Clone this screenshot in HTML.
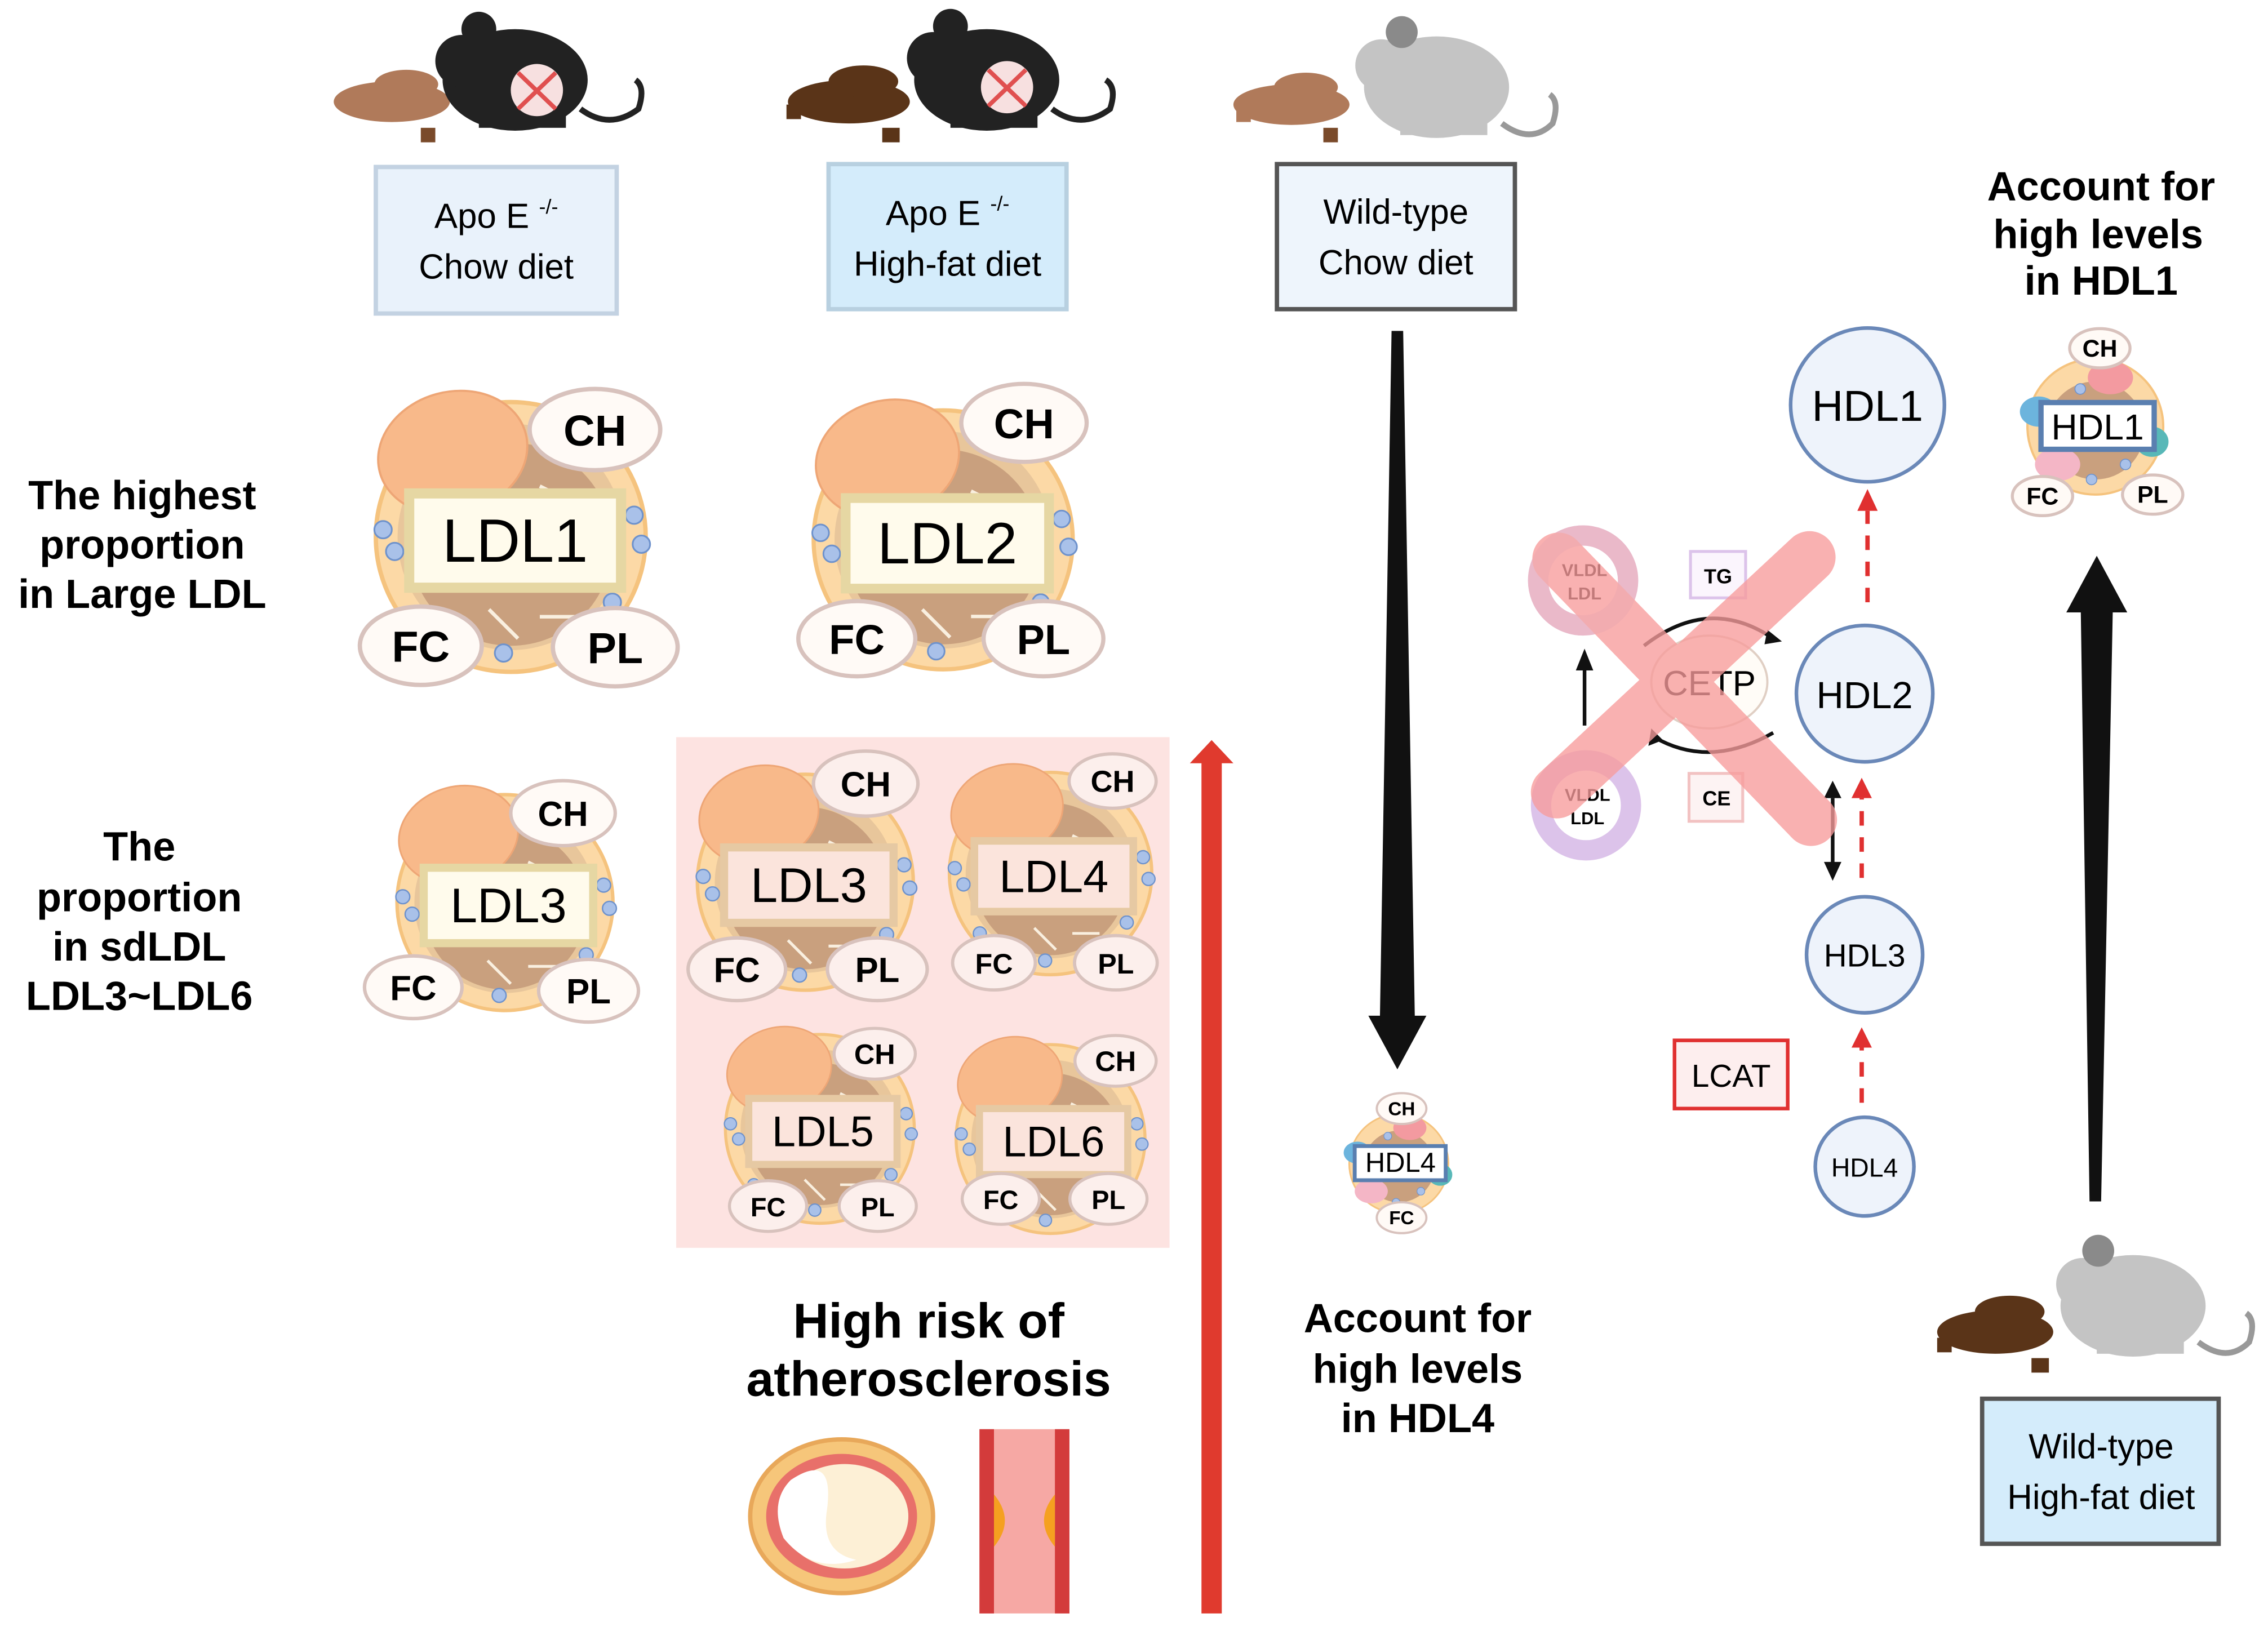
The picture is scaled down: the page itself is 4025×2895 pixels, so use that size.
<!DOCTYPE html>
<html><head><meta charset="utf-8"><style>html,body{margin:0;padding:0;background:#fff}svg{display:block}</style></head>
<body>
<svg width="4025" height="2895" viewBox="0 0 1563 1124" xmlns="http://www.w3.org/2000/svg" font-family="Liberation Sans, sans-serif">
<defs>
<symbol id="shell" viewBox="-100 -100 200 200" overflow="visible">
  <circle r="93" fill="#fcd9a6" stroke="#f5c37e" stroke-width="3"/>
  <circle r="78" fill="#e8c69b"/>
  <circle cy="5" r="70" fill="#c9a07e"/>
  <g stroke="#fff8ea" stroke-width="2.5" opacity="0.9">
    <line x1="-10" y1="-40" x2="-25" y2="-10"/><line x1="20" y1="-35" x2="50" y2="-20"/>
    <line x1="-15" y1="50" x2="5" y2="70"/><line x1="20" y1="55" x2="45" y2="55"/>
  </g>
  <g fill="#a9c1e9" stroke="#6e92cc" stroke-width="1.2">
    <circle cx="-88" cy="-5" r="6"/><circle cx="-80" cy="10" r="6"/><circle cx="85" cy="-15" r="6"/><circle cx="90" cy="5" r="6"/>
    <circle cx="-10" cy="-55" r="6"/><circle cx="0" cy="-45" r="6"/><circle cx="70" cy="45" r="6"/><circle cx="-65" cy="55" r="6"/><circle cx="-5" cy="80" r="6"/>
  </g>
  <ellipse cx="-40" cy="-58" rx="52" ry="42" fill="#f8b98a" stroke="#eea676" stroke-width="1.5" transform="rotate(-15 -40 -58)"/>
</symbol>
<symbol id="hshell" viewBox="-100 -100 200 200" overflow="visible">
  <circle r="90" fill="#fcd9a6" stroke="#f5c37e" stroke-width="3"/>
  <circle cy="5" r="65" fill="#c9a07e"/>
  <ellipse cx="-75" cy="-20" rx="25" ry="20" fill="#6cb4dd"/>
  <ellipse cx="20" cy="-65" rx="30" ry="22" fill="#f39aa0"/>
  <ellipse cx="-50" cy="50" rx="30" ry="22" fill="#f4b6c6"/>
  <ellipse cx="75" cy="20" rx="22" ry="20" fill="#58b8b8"/>
  <g fill="#a9c1e9" stroke="#6e92cc" stroke-width="1.2">
    <circle cx="-20" cy="-50" r="7"/><circle cx="40" cy="50" r="7"/><circle cx="-5" cy="70" r="7"/></g>
</symbol>
</defs>

<!-- food + mice -->
<g>
  <g fill="#b07a5a"><ellipse cx="270" cy="70" rx="40" ry="14"/><rect x="240" y="62" width="12" height="12"/><rect x="290" y="88" width="10" height="10" fill="#7a4a2a"/><ellipse cx="280" cy="58" rx="22" ry="10"/></g>
  <g fill="#222"><ellipse cx="355" cy="55" rx="50" ry="35"/><circle cx="318" cy="42" r="18"/><circle cx="330" cy="20" r="12"/><path d="M400 75 Q420 90 440 75 Q445 60 438 55" stroke="#222" stroke-width="4" fill="none"/><rect x="330" y="80" width="60" height="8"/></g>
  <circle cx="370" cy="62" r="18" fill="#f7e0e0"/><path d="M357 50 L383 75 M383 50 L357 75" stroke="#e05050" stroke-width="3"/>

  <g fill="#5a3418"><ellipse cx="585" cy="70" rx="42" ry="15"/><ellipse cx="595" cy="56" rx="24" ry="11"/><rect x="608" y="88" width="12" height="10"/><rect x="542" y="72" width="10" height="10"/></g>
  <g fill="#222"><ellipse cx="680" cy="55" rx="50" ry="35"/><circle cx="643" cy="40" r="18"/><circle cx="655" cy="18" r="12"/><path d="M725 75 Q745 90 765 75 Q770 60 762 55" stroke="#222" stroke-width="4" fill="none"/><rect x="655" y="80" width="60" height="8"/></g>
  <circle cx="694" cy="60" r="18" fill="#f7e0e0"/><path d="M681 48 L707 73 M707 48 L681 73" stroke="#e05050" stroke-width="3"/>

  <g fill="#b07a5a"><ellipse cx="890" cy="72" rx="40" ry="14"/><ellipse cx="900" cy="60" rx="22" ry="10"/><rect x="912" y="88" width="10" height="10" fill="#7a4a2a"/><rect x="852" y="74" width="10" height="10"/></g>
  <g fill="#c4c4c4"><ellipse cx="990" cy="60" rx="50" ry="35"/><circle cx="952" cy="45" r="18"/><circle cx="966" cy="22" r="11" fill="#8a8a8a"/><path d="M1035 85 Q1055 100 1070 85 Q1075 70 1068 65" stroke="#999" stroke-width="4" fill="none"/><rect x="965" y="85" width="60" height="8"/></g>

  <g fill="#5a3418"><ellipse cx="1375" cy="918" rx="40" ry="15"/><ellipse cx="1385" cy="904" rx="24" ry="11"/><rect x="1400" y="936" width="12" height="10"/><rect x="1335" y="922" width="10" height="10"/></g>
  <g fill="#c4c4c4"><ellipse cx="1470" cy="900" rx="50" ry="35"/><circle cx="1435" cy="885" r="18"/><circle cx="1446" cy="862" r="11" fill="#8a8a8a"/><path d="M1515 925 Q1535 940 1550 925 Q1555 910 1548 905" stroke="#999" stroke-width="4" fill="none"/><rect x="1445" y="925" width="60" height="8"/></g>
</g>

<!-- group boxes -->
<rect x="259" y="115" width="166" height="101" fill="#e9f2fb" stroke="#c3d2e2" stroke-width="3"/>
<text x="342" y="157" font-size="24" text-anchor="middle">Apo E <tspan font-size="14" dy="-10">-/-</tspan></text>
<text x="342" y="192" font-size="24" text-anchor="middle">Chow diet</text>
<rect x="571" y="113" width="164" height="100" fill="#d4ecfb" stroke="#b8d0e0" stroke-width="3"/>
<text x="653" y="155" font-size="24" text-anchor="middle">Apo E <tspan font-size="14" dy="-10">-/-</tspan></text>
<text x="653" y="190" font-size="24" text-anchor="middle">High-fat diet</text>
<rect x="880" y="113" width="164" height="100" fill="#eef5fc" stroke="#555" stroke-width="3"/>
<text x="962" y="154" font-size="24" text-anchor="middle">Wild-type</text>
<text x="962" y="189" font-size="24" text-anchor="middle">Chow diet</text>
<rect x="1366" y="964" width="163" height="100" fill="#d4ecfb" stroke="#555" stroke-width="3"/>
<text x="1448" y="1005" font-size="24" text-anchor="middle">Wild-type</text>
<text x="1448" y="1040" font-size="24" text-anchor="middle">High-fat diet</text>

<!-- left labels -->
<g font-weight="bold" font-size="28" text-anchor="middle">
<text x="98" y="351">The highest</text><text x="98" y="385">proportion</text><text x="98" y="419">in Large LDL</text>
<text x="96" y="593">The</text><text x="96" y="628">proportion</text><text x="96" y="662">in sdLDL</text><text x="96" y="696">LDL3~LDL6</text>
</g>

<rect x="466" y="508" width="340" height="352" fill="#fde3e1"/>

<!-- LDL particles -->
<g id="p">
<g transform="translate(352,370) scale(1)">
 <use href="#shell" x="-100" y="-100" width="200" height="200"/>
 <rect x="-70" y="-30" width="146" height="65" fill="#fffbec" stroke="#e6d7a3" stroke-width="7"/>
 <text x="3" y="17" font-size="42" text-anchor="middle">LDL1</text>
 <ellipse cx="58" cy="-74" rx="45" ry="28" fill="#fffaf6" stroke="#d8c2bd" stroke-width="3"/><text x="58" y="-63" font-size="30" font-weight="bold" text-anchor="middle">CH</text>
 <ellipse cx="-62" cy="75" rx="42" ry="27" fill="#fffaf6" stroke="#d8c2bd" stroke-width="3"/><text x="-62" y="86" font-size="30" font-weight="bold" text-anchor="middle">FC</text>
 <ellipse cx="72" cy="76" rx="43" ry="27" fill="#fffaf6" stroke="#d8c2bd" stroke-width="3"/><text x="72" y="87" font-size="30" font-weight="bold" text-anchor="middle">PL</text>
</g>
</g>
<g transform="translate(650,372) scale(0.96)">
 <use href="#shell" x="-100" y="-100" width="200" height="200"/>
 <rect x="-70" y="-30" width="146" height="65" fill="#fffbec" stroke="#e6d7a3" stroke-width="7"/>
 <text x="3" y="17" font-size="42" text-anchor="middle">LDL2</text>
 <ellipse cx="58" cy="-84" rx="45" ry="28" fill="#fffaf6" stroke="#d8c2bd" stroke-width="3"/><text x="58" y="-73" font-size="30" font-weight="bold" text-anchor="middle">CH</text>
 <ellipse cx="-62" cy="71" rx="42" ry="27" fill="#fffaf6" stroke="#d8c2bd" stroke-width="3"/><text x="-62" y="82" font-size="30" font-weight="bold" text-anchor="middle">FC</text>
 <ellipse cx="72" cy="71" rx="43" ry="27" fill="#fffaf6" stroke="#d8c2bd" stroke-width="3"/><text x="72" y="82" font-size="30" font-weight="bold" text-anchor="middle">PL</text>
</g>
<g transform="translate(348,622) scale(0.8)">
 <use href="#shell" x="-100" y="-100" width="200" height="200"/>
 <rect x="-70" y="-30" width="146" height="65" fill="#fffbec" stroke="#e6d7a3" stroke-width="7"/>
 <text x="3" y="17" font-size="42" text-anchor="middle">LDL3</text>
 <ellipse cx="50" cy="-77" rx="45" ry="28" fill="#fffaf6" stroke="#d8c2bd" stroke-width="3"/><text x="50" y="-66" font-size="30" font-weight="bold" text-anchor="middle">CH</text>
 <ellipse cx="-79" cy="73" rx="42" ry="27" fill="#fffaf6" stroke="#d8c2bd" stroke-width="3"/><text x="-79" y="84" font-size="30" font-weight="bold" text-anchor="middle">FC</text>
 <ellipse cx="72" cy="76" rx="43" ry="27" fill="#fffaf6" stroke="#d8c2bd" stroke-width="3"/><text x="72" y="87" font-size="30" font-weight="bold" text-anchor="middle">PL</text>
</g>
<g transform="translate(555,608) scale(0.8)">
 <use href="#shell" x="-100" y="-100" width="200" height="200"/>
 <rect x="-70" y="-30" width="146" height="65" fill="#fbe4dc" stroke="#e6c9a3" stroke-width="7"/>
 <text x="3" y="17" font-size="42" text-anchor="middle">LDL3</text>
 <ellipse cx="52" cy="-85" rx="45" ry="28" fill="#fcefec" stroke="#d8c2bd" stroke-width="3"/><text x="52" y="-74" font-size="30" font-weight="bold" text-anchor="middle">CH</text>
 <ellipse cx="-59" cy="75" rx="42" ry="27" fill="#fcefec" stroke="#d8c2bd" stroke-width="3"/><text x="-59" y="86" font-size="30" font-weight="bold" text-anchor="middle">FC</text>
 <ellipse cx="62" cy="75" rx="43" ry="27" fill="#fcefec" stroke="#d8c2bd" stroke-width="3"/><text x="62" y="86" font-size="30" font-weight="bold" text-anchor="middle">PL</text>
</g>
<g transform="translate(724,602) scale(0.75)">
 <use href="#shell" x="-100" y="-100" width="200" height="200"/>
 <rect x="-70" y="-30" width="146" height="65" fill="#fbe4dc" stroke="#e6c9a3" stroke-width="7"/>
 <text x="3" y="17" font-size="42" text-anchor="middle">LDL4</text>
 <ellipse cx="57" cy="-85" rx="40" ry="25" fill="#fcefec" stroke="#d8c2bd" stroke-width="3"/><text x="57" y="-75" font-size="28" font-weight="bold" text-anchor="middle">CH</text>
 <ellipse cx="-52" cy="82" rx="38" ry="25" fill="#fcefec" stroke="#d8c2bd" stroke-width="3"/><text x="-52" y="92" font-size="26" font-weight="bold" text-anchor="middle">FC</text>
 <ellipse cx="60" cy="82" rx="38" ry="25" fill="#fcefec" stroke="#d8c2bd" stroke-width="3"/><text x="60" y="92" font-size="26" font-weight="bold" text-anchor="middle">PL</text>
</g>
<g transform="translate(565,778) scale(0.7)">
 <use href="#shell" x="-100" y="-100" width="200" height="200"/>
 <rect x="-70" y="-30" width="146" height="65" fill="#fbe4dc" stroke="#e6c9a3" stroke-width="7"/>
 <text x="3" y="17" font-size="42" text-anchor="middle">LDL5</text>
 <ellipse cx="54" cy="-74" rx="40" ry="25" fill="#fcefec" stroke="#d8c2bd" stroke-width="3"/><text x="54" y="-64" font-size="28" font-weight="bold" text-anchor="middle">CH</text>
 <ellipse cx="-51" cy="76" rx="38" ry="25" fill="#fcefec" stroke="#d8c2bd" stroke-width="3"/><text x="-51" y="86" font-size="26" font-weight="bold" text-anchor="middle">FC</text>
 <ellipse cx="57" cy="76" rx="38" ry="25" fill="#fcefec" stroke="#d8c2bd" stroke-width="3"/><text x="57" y="86" font-size="26" font-weight="bold" text-anchor="middle">PL</text>
</g>
<g transform="translate(724,785) scale(0.7)">
 <use href="#shell" x="-100" y="-100" width="200" height="200"/>
 <rect x="-70" y="-30" width="146" height="65" fill="#fbe4dc" stroke="#e6c9a3" stroke-width="7"/>
 <text x="3" y="17" font-size="42" text-anchor="middle">LDL6</text>
 <ellipse cx="64" cy="-77" rx="40" ry="25" fill="#fcefec" stroke="#d8c2bd" stroke-width="3"/><text x="64" y="-67" font-size="28" font-weight="bold" text-anchor="middle">CH</text>
 <ellipse cx="-49" cy="59" rx="38" ry="25" fill="#fcefec" stroke="#d8c2bd" stroke-width="3"/><text x="-49" y="69" font-size="26" font-weight="bold" text-anchor="middle">FC</text>
 <ellipse cx="57" cy="59" rx="38" ry="25" fill="#fcefec" stroke="#d8c2bd" stroke-width="3"/><text x="57" y="69" font-size="26" font-weight="bold" text-anchor="middle">PL</text>
</g>

<!-- HDL particles -->
<g transform="translate(964,802) scale(0.38)">
 <use href="#hshell" x="-100" y="-100" width="200" height="200"/>
 <rect x="-80" y="-32" width="165" height="62" fill="#fff" stroke="#5a7fb0" stroke-width="7"/>
 <text x="3" y="15" font-size="50" text-anchor="middle">HDL4</text>
 <ellipse cx="5" cy="-100" rx="45" ry="28" fill="#fffaf6" stroke="#d8c2bd" stroke-width="4"/><text x="5" y="-88" font-size="34" font-weight="bold" text-anchor="middle">CH</text>
 <ellipse cx="5" cy="98" rx="45" ry="28" fill="#fffaf6" stroke="#d8c2bd" stroke-width="4"/><text x="5" y="110" font-size="34" font-weight="bold" text-anchor="middle">FC</text>
</g>
<g transform="translate(1444,294) scale(0.52)">
 <use href="#hshell" x="-100" y="-100" width="200" height="200"/>
 <rect x="-72" y="-32" width="150" height="62" fill="#fff" stroke="#5a7fb0" stroke-width="7"/>
 <text x="3" y="17" font-size="48" text-anchor="middle">HDL1</text>
 <ellipse cx="6" cy="-104" rx="40" ry="26" fill="#fffaf6" stroke="#d8c2bd" stroke-width="4"/><text x="6" y="-93" font-size="32" font-weight="bold" text-anchor="middle">CH</text>
 <ellipse cx="-70" cy="92" rx="40" ry="26" fill="#fffaf6" stroke="#d8c2bd" stroke-width="4"/><text x="-70" y="103" font-size="32" font-weight="bold" text-anchor="middle">FC</text>
 <ellipse cx="76" cy="90" rx="40" ry="26" fill="#fffaf6" stroke="#d8c2bd" stroke-width="4"/><text x="76" y="101" font-size="32" font-weight="bold" text-anchor="middle">PL</text>
</g>

<!-- big black arrows -->
<polygon points="959,228 967,228 975,700 983,700 963,737 943,700 951,700" fill="#111"/>
<polygon points="1440,828 1448,828 1456,422 1466,422 1445,383 1424,422 1434,422" fill="#111"/>
<!-- red arrow -->
<rect x="828" y="522" width="14" height="590" fill="#e03a2e"/>
<polygon points="820,526 850,526 835,510" fill="#e03a2e"/>

<!-- texts -->
<g font-weight="bold" text-anchor="middle">
<text x="640" y="922" font-size="34">High risk of</text><text x="640" y="962" font-size="34">atherosclerosis</text>
<text x="977" y="918" font-size="28">Account for</text><text x="977" y="953" font-size="28">high levels</text><text x="977" y="987" font-size="28">in HDL4</text>
<text x="1448" y="138" font-size="28">Account for</text><text x="1446" y="171" font-size="28">high levels</text><text x="1448" y="203" font-size="28">in HDL1</text>
</g>

<!-- artery icons -->
<ellipse cx="580" cy="1045" rx="63" ry="53" fill="#f6c67a" stroke="#e8a85a" stroke-width="3"/>
<ellipse cx="580" cy="1045" rx="52" ry="43" fill="#e8706a"/>
<ellipse cx="582" cy="1045" rx="44" ry="36" fill="#fdf0d6"/>
<path d="M545 1020 Q575 1000 570 1040 Q565 1070 590 1075 Q560 1085 540 1060 Q530 1035 545 1020Z" fill="#fff"/>
<rect x="675" y="985" width="62" height="127" fill="#f6a8a4"/>
<rect x="675" y="985" width="10" height="127" fill="#d33b3b"/><rect x="727" y="985" width="10" height="127" fill="#d33b3b"/>
<path d="M685 1030 Q700 1048 685 1066Z" fill="#f5a020"/><path d="M727 1030 Q712 1048 727 1066Z" fill="#f5a020"/>

<!-- HDL circles -->
<g fill="#eef3fb" stroke="#6a88b8" stroke-width="2.5">
<circle cx="1287" cy="279" r="53"/><circle cx="1285" cy="478" r="47"/><circle cx="1285" cy="658" r="40"/><circle cx="1285" cy="804" r="34"/></g>
<g text-anchor="middle">
<text x="1287" y="290" font-size="30">HDL1</text><text x="1285" y="488" font-size="26">HDL2</text>
<text x="1285" y="666" font-size="22">HDL3</text><text x="1285" y="811" font-size="18">HDL4</text></g>
<g stroke="#e03030" stroke-width="3" stroke-dasharray="10,8" fill="none">
<line x1="1287" y1="415" x2="1287" y2="352"/><line x1="1283" y1="605" x2="1283" y2="550"/><line x1="1283" y1="760" x2="1283" y2="722"/></g>
<g fill="#e03030"><polygon points="1280,352 1294,352 1287,337"/><polygon points="1276,550 1290,550 1283,536"/><polygon points="1276,722 1290,722 1283,708"/></g>
<rect x="1154" y="717" width="78" height="47" fill="#fdeeee" stroke="#e03030" stroke-width="2.5"/>
<text x="1193" y="749" font-size="22" text-anchor="middle">LCAT</text>

<!-- CETP cycle -->
<circle cx="1091" cy="400" r="31" fill="none" stroke="#dcc3ea" stroke-width="14"/>
<circle cx="1093" cy="555" r="31" fill="none" stroke="#dcc3ea" stroke-width="14"/>
<text x="1092" y="397" font-size="12" font-weight="bold" text-anchor="middle">VLDL</text><text x="1092" y="413" font-size="12" font-weight="bold" text-anchor="middle">LDL</text>
<text x="1094" y="552" font-size="12" font-weight="bold" text-anchor="middle">VLDL</text><text x="1094" y="568" font-size="12" font-weight="bold" text-anchor="middle">LDL</text>
<rect x="1165" y="380" width="38" height="32" fill="#fbf5fd" stroke="#dcc3ea" stroke-width="2"/><text x="1184" y="402" font-size="14" font-weight="bold" text-anchor="middle">TG</text>
<rect x="1164" y="533" width="37" height="33" fill="#fdf3f3" stroke="#f2c2c2" stroke-width="2"/><text x="1183" y="555" font-size="14" font-weight="bold" text-anchor="middle">CE</text>
<ellipse cx="1178" cy="470" rx="40" ry="32" fill="#fffcf7" stroke="#e0cfc4" stroke-width="1.5"/>
<text x="1178" y="479" font-size="24" text-anchor="middle">CETP</text>
<path d="M1133 445 Q1178 410 1222 440" fill="none" stroke="#111" stroke-width="2.5"/><polygon points="1218,434 1228,442 1216,444" fill="#111"/>
<path d="M1222 505 Q1178 530 1140 508" fill="none" stroke="#111" stroke-width="2.5"/><polygon points="1138,502 1136,514 1146,510" fill="#111"/>
<line x1="1092" y1="500" x2="1092" y2="460" stroke="#111" stroke-width="2.5"/><polygon points="1086,462 1098,462 1092,447" fill="#111"/>
<line x1="1263" y1="550" x2="1263" y2="595" stroke="#111" stroke-width="2.5"/><polygon points="1257,550 1269,550 1263,538" fill="#111"/><polygon points="1257,594 1269,594 1263,607" fill="#111"/>
<g stroke="#f89c9c" stroke-width="36" stroke-linecap="round" opacity="0.78">
<line x1="1074" y1="385" x2="1248" y2="565"/><line x1="1073" y1="546" x2="1247" y2="384"/></g>
<circle cx="1091" cy="400" r="31" fill="none" stroke="#f4b2b2" stroke-width="14" opacity="0.6"/>
</svg>
</body></html>
